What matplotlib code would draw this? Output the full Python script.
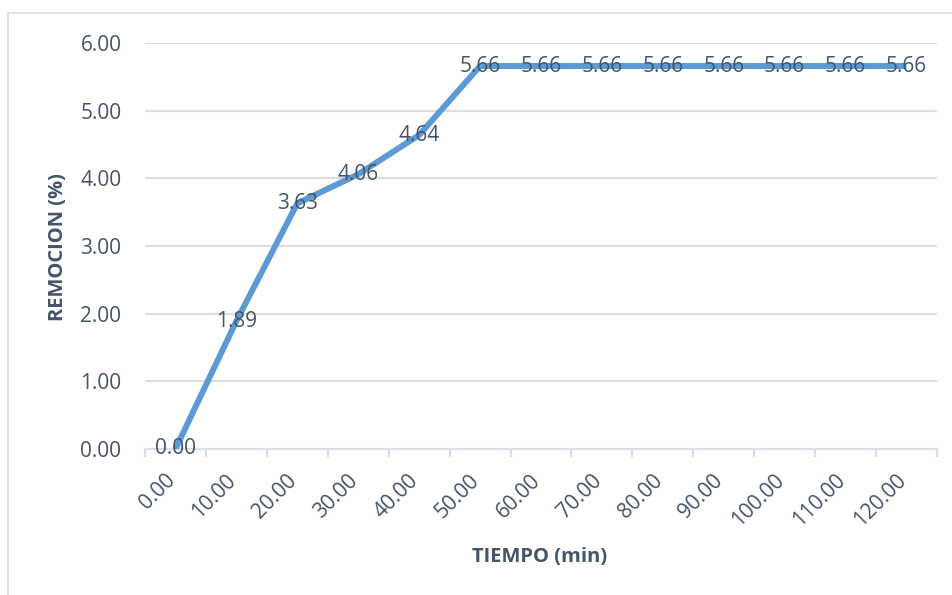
import matplotlib.pyplot as plt
import numpy as np

# removal (%) vs time (min)
tiempo = [0, 10, 20, 30, 40, 50, 60, 70, 80, 90, 100, 110, 120]
remocion = [0.00, 1.89, 3.63, 4.06, 4.64, 5.66, 5.66, 5.66, 5.66, 5.66, 5.66, 5.66, 5.66]
y_ticks = [0, 1, 2, 3, 4, 5, 6]

txt_color = '#44546A'
line_color = '#5B9BD5'
grid_color = '#D9DEE5'

plt.rcParams['font.family'] = ['Open Sans', 'DejaVu Sans']

fig = plt.figure(figsize=(9.52, 5.95), dpi=100)
ax = fig.add_axes([0.1523, 0.2454, 0.8319, 0.6823])

# outer chart frame (left and top edges visible)
fig.patches.append(plt.Rectangle((8 / 952, -0.05), 1.2, 1 - 13 / 595 + 0.05,
                                 transform=fig.transFigure, fill=False,
                                 edgecolor=grid_color, linewidth=1.2))

x = np.arange(len(tiempo))
ax.plot(x, remocion, color=line_color, linewidth=4.3, solid_capstyle='butt',
        solid_joinstyle='miter', zorder=3)

# value labels centered on each point
for xi, v in zip(x, remocion):
    ax.text(xi, v, f'{v:.2f}', ha='center', va='center', fontsize=15,
            color=txt_color, zorder=4)

ax.set_xlim(-0.5, len(tiempo) - 0.5)
ax.set_ylim(0, 6)
ax.set_yticks(y_ticks)
ax.set_yticklabels([f'{t:.2f}' for t in y_ticks])
ax.yaxis.grid(True, color=grid_color, linewidth=1.5)
ax.set_axisbelow(True)

# category labels at centers, tick marks at the boundaries
ax.set_xticks(x + 0.06)
ax.set_xticklabels([f'{t:.2f}' for t in tiempo], rotation=45, ha='right',
                   va='top', rotation_mode='default')
ax.set_xticks(np.arange(-0.5, len(tiempo)), minor=True)
ax.tick_params(axis='x', which='major', length=0, pad=15, labelsize=15,
               labelcolor=txt_color)
ax.tick_params(axis='x', which='minor', length=6, width=1.5, color=grid_color)
ax.tick_params(axis='y', length=0, pad=17, labelsize=15, labelcolor=txt_color)

for side in ['top', 'right', 'left']:
    ax.spines[side].set_visible(False)
ax.spines['bottom'].set_color(grid_color)
ax.spines['bottom'].set_linewidth(1.5)

fig.text(58 / 952, 1 - 247 / 595, 'REMOCION (%)', rotation=90, ha='center',
         va='center', fontsize=14.5, fontweight='bold', color=txt_color)
fig.text(540 / 952, 1 - 557 / 595, 'TIEMPO (min)', ha='center', va='center',
         fontsize=14.5, fontweight='bold', color=txt_color)

fig.savefig('out.png', dpi=100)
